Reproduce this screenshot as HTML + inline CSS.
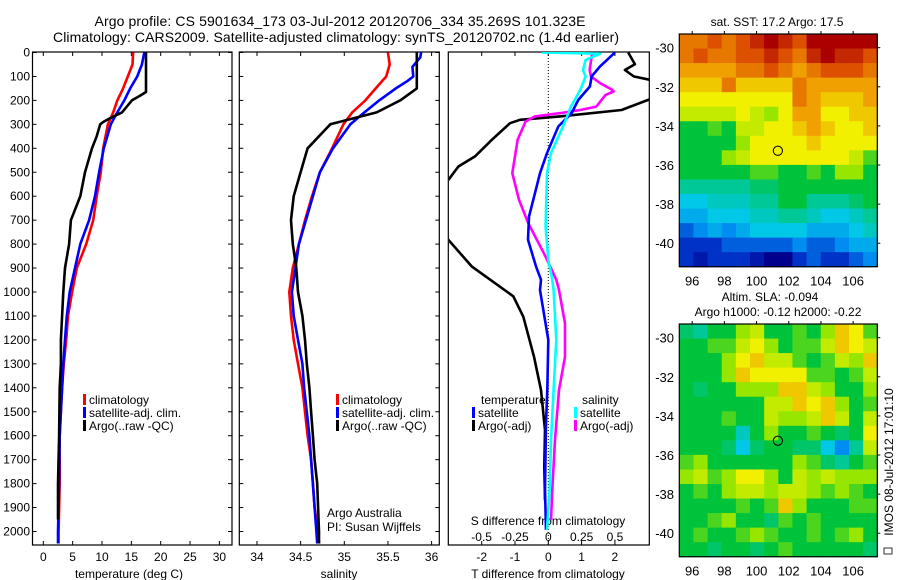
<!DOCTYPE html>
<html><head><meta charset="utf-8"><style>
body{margin:0;background:#fff;}
svg{display:block;font-family:"Liberation Sans",sans-serif;}
text{fill:#000;}
</style></head><body>
<svg id="c" width="900" height="580" viewBox="0 0 900 580">
<defs>
<clipPath id="cp1"><rect x="33" y="52" width="199" height="493"/></clipPath>
<clipPath id="cp2"><rect x="240" y="52" width="199" height="493"/></clipPath>
<clipPath id="cp3"><rect x="449" y="52" width="200" height="493"/></clipPath>
</defs>
<text x="340" y="26" font-size="14" text-anchor="middle" textLength="491">Argo profile: CS 5901634_173 03-Jul-2012 20120706_334 35.269S 101.323E</text>
<text x="336" y="42" font-size="14" text-anchor="middle" textLength="566">Climatology: CARS2009. Satellite-adjusted climatology: synTS_20120702.nc (1.4d earlier)</text>
<g id="g"></g>
</svg>
<script>
// ---- profile data ----
const depthT = [0,50,100,150,200,250,300,400,500,600,700,800,900,1000,1100,1200,1300,1400,1500,1600,1800,2000,2050];
const tempClim = [15.3,15.2,14.4,13.6,12.6,11.9,11.0,10.2,9.8,9.1,8.5,7.3,5.7,4.9,4.2,3.9,3.5,3.2,3.0,2.8,2.8,2.6,2.6];
const tempSat  = [17.2,16.8,16.0,14.8,13.8,12.6,11.5,10.3,9.5,8.8,7.8,6.3,5.4,4.5,4.0,3.7,3.4,3.2,3.0,2.8,2.7,2.5,2.5];
const depthArgo = [0,165,180,200,250,270,290,300,350,400,500,600,700,800,900,1000,1100,1200,1300,1400,1600,1800,1950];
const tempArgo = [17.5,17.5,16.5,15.1,13.4,11.7,10.2,9.7,9.1,8.3,7.1,6.3,4.7,4.4,3.7,3.4,3.2,3.0,3.0,2.8,2.7,2.5,2.5];
const depthS = [0,50,100,150,200,250,300,400,500,600,700,800,900,1000,1100,1200,1300,1400,1500,1600,1700,1800,1900,2000,2050];
const salClim = [35.50,35.52,35.48,35.36,35.24,35.09,34.99,34.86,34.72,34.63,34.55,34.48,34.41,34.37,34.39,34.42,34.47,34.52,34.55,34.58,34.62,34.64,34.66,34.70,34.71];
const depthSS = [0,20,60,100,120,150,200,250,300,400,500,600,700,800,900,1000,1100,1200,1300,1400,1500,1600,1700,1800,1900,2000,2050];
const salSat  = [35.88,35.87,35.78,35.79,35.72,35.59,35.40,35.23,35.07,34.87,34.72,34.64,34.56,34.48,34.44,34.40,34.42,34.47,34.52,34.54,34.57,34.60,34.62,34.64,34.66,34.68,34.69];
const salArgo = [35.83,35.83,35.83,35.83,35.83,35.83,35.64,35.37,34.84,34.58,34.50,34.42,34.39,34.41,34.45,34.47,34.52,34.55,34.57,34.60,34.62,34.64,34.66,34.69,34.70,34.71,34.71];
// ---- difference data ----
const depthDT = [0,59,100,142,198,253,309,420,504,587,685,782,893,949,992,1200,1409,1548,1826,1993];
const dTsat = [2.0,1.55,1.3,1.25,0.9,0.7,0.3,-0.04,-0.25,-0.4,-0.58,-0.61,-0.37,-0.22,-0.25,0,-0.03,-0.07,-0.1,-0.07];
const depthDTA = [0,49,73,100,114,150,198,240,267,281,295,365,434,476,532,650,782,893,1018,1103,1270,1409,1576,1729,1870];
const dTargo = [2.4,2.6,2.3,2.57,3.05,3.8,3.0,2.2,0.35,-0.85,-1.15,-1.7,-2.2,-2.7,-3.0,-4.0,-3.0,-2.3,-1.05,-0.75,-0.43,-0.22,-0.1,-0.12,-0.1];
const depthDS = [0,5,31,73,100,156,226,309,420,504,727,866,949,992,1200,1409,1618,1826,1993];
const dSsat = [-0.05,0.39,0.28,0.26,0.28,0.24,0.17,0.11,0.02,-0.01,-0.02,0.0,0.03,0.04,0.06,0.04,0.02,0.01,-0.01];
const depthDSA = [0,73,100,128,156,163,177,226,240,253,267,288,365,504,615,713,852,949,992,1131,1270,1409,1618,1826,1951];
const dSargo = [0.33,0.31,0.32,0.39,0.48,0.49,0.43,0.36,0.24,0.09,-0.10,-0.17,-0.23,-0.27,-0.22,-0.15,-0.02,0.06,0.08,0.125,0.125,0.08,0.05,0.03,0.02];
const depthTicks = [0,100,200,300,400,500,600,700,800,900,1000,1100,1200,1300,1400,1500,1600,1700,1800,1900,2000];
const tempTicks = [0,5,10,15,20,25,30];
const salTicks = [34,34.5,35,35.5,36];
const salTickLabels = ["34","34.5","35","35.5","36"];
const dTTicks = [-2,-1,0,1,2];
const dSTicks = [-0.5,-0.25,0,0.25,0.5];
const dSTickLabels = ["-0.5","-0.25","0","0.25","0.5"];
// ---- maps ----
const latTicks = [-30,-32,-34,-36,-38,-40];
const lonTicks = [96,98,100,102,104,106];
const sstGrid = [
[8.5,8.5,9,8.5,9,9.5,10,9.5,9,10,10,10,10,10],
[8.5,9,8.5,8.5,9,9,9.5,9,8.5,9.5,10,9.5,9.5,9],
[8,8,8,8,8.5,8.5,9,8.5,8,8.5,9,9,9,8.5],
[7.5,7.5,7.5,8.5,7.5,7.5,7.5,7.5,8.5,8,8,8,8,8],
[7,7,7,7,7,7,7,7,8.5,8,7.5,7.5,7.5,8],
[6.5,6.5,6.5,6.5,7,6.5,6,7,8,8,7,7,7.5,7.5],
[5,5,5.5,5,6.5,6.5,7,7,7.5,8,7.5,7,7,7.5],
[5,5,5,5,6,7,7,7,7,7.5,7,7,7,7],
[5,5,5,6,6.5,7,7,7,7,7,7,7,6.5,5.5],
[5,5,5,5,5,5.5,5.5,5,5,5.5,5,6,6,5],
[4,4,4,4,4,4.5,4.5,5,5,5,5,5,5,5],
[3,3,3.5,3.5,3.5,4,4,5,5,4,4,4,4.5,5],
[2.5,2.5,3,3,3,3.5,3.5,4,4,3.5,3,3,3.5,4],
[1.5,2,2.5,2,2.5,3,3,3,3,2.5,2.5,2.5,3,3.5],
[1,1,1,1.5,1.5,1.5,1.5,1.5,2,1.5,1.5,2,2.5,2.5],
[1,0.5,1,1,1,0.5,0,0,1,1.5,1,1,1.5,2]];
const slaGrid = [
[4.5,4,5,5,6,6.5,5,5,5.5,5,6,7.5,7,5.5],
[5,5,5.5,5.5,6.5,7,6,5,5.5,5.5,6.5,7.5,7,6.5],
[5,5,5,6,7,7.5,6.5,6.5,5.5,5,5.5,6.5,6,7.5],
[5,5,5,6,7.5,7,7,7,7,5.5,5.5,5,5.5,6.5],
[5,4.5,5,5,6,6,6,7.5,7.5,6.5,6,5,5,6],
[5,5,5,5,5,5,6.5,6.5,7.5,7,7.5,6,5,5.5],
[5,5,5,5.5,5,5,6.5,6,6,6.5,7.5,6.5,5,6.5],
[5,5,5,5,3.5,5,6,5,5,5.5,5,4.5,5,7],
[5,5,5,4.5,3,4.5,5,5,4.5,4.5,3,2,4,6.5],
[5.5,6,5,5,5,5,5,5,6,5.5,4.5,4,5,5.5],
[6,6.5,5.5,6,7,7,6,5,6.5,6,6.5,6,6,6],
[5,5.5,5,6,6.5,6.5,6,6.5,6.5,6,5.5,6,5.5,5],
[5,5,5,5,5.5,5,5.5,7.5,6,5,5,5,5.5,5.5],
[5,5,5.5,6,5,5,4.5,5.5,5,5.5,5,5,5,5],
[5,5.5,5,5,5.5,6,5.5,5,5,5.5,5,5.5,6,5],
[5,5,4.5,5,5,4.5,5,5.5,5,5,5,5,5,4.5]];
const argoLon = 101.323, argoLat = -35.269;

const NS="http://www.w3.org/2000/svg";
const G=document.getElementById('g');
function mk(tag,at,parent){const e=document.createElementNS(NS,tag);for(const k in at)e.setAttribute(k,at[k]);(parent||G).appendChild(e);return e;}
function txt(x,y,s,size,anchor,parent){const e=mk('text',{x:x,y:y,'font-size':size||12,'text-anchor':anchor||'middle'},parent);e.textContent=s;return e;}
const yD=d=>52.5+0.2395*d;
const xT=t=>43.3+5.87*t;
const xS=s=>257+87.3*(s-34);
const xDT=t=>548.3+33.3*t;
const xDS=s=>548.3+133.3*s;

function line(xs,ds,fx,color,clip,name){
  let p=xs.map((v,i)=>(i?'L':'M')+fx(v).toFixed(1)+' '+yD(ds[i]).toFixed(1)).join(' ');
  const e=mk('path',{d:p,fill:'none',stroke:color,'stroke-width':2.6,'stroke-linejoin':'round','clip-path':'url(#'+clip+')'});
  
  
}
function frame(x0,x1,name){
  const e=mk('rect',{x:x0,y:52,width:x1-x0,height:493,fill:'none',stroke:'#000','stroke-width':1.2});
  
  
  depthTicks.forEach(d=>{mk('line',{x1:x0,x2:x0+4,y1:yD(d),y2:yD(d),stroke:'#000'});mk('line',{x1:x1,x2:x1-4,y1:yD(d),y2:yD(d),stroke:'#000'});});
}
// panel 1
frame(32.5,232,'temperature-panel');
depthTicks.forEach(d=>{const t=txt(30,yD(d)+4,String(d),12,'end');});
tempTicks.forEach(t=>{mk('line',{x1:xT(t),x2:xT(t),y1:545,y2:541,stroke:'#000'});mk('line',{x1:xT(t),x2:xT(t),y1:52,y2:56,stroke:'#000'});
 const l=txt(xT(t),561,String(t));});
let a=txt(129,578,'temperature (deg C)');
line(tempClim,depthT,xT,'#f00','cp1','temp-climatology-line');
line(tempSat,depthT,xT,'#00f','cp1','temp-satellite-line');
line(tempArgo,depthArgo,xT,'#000','cp1','temp-argo-line');
// panel 2
frame(239.3,439.3,'salinity-panel');
salTicks.forEach((s,i)=>{mk('line',{x1:xS(s),x2:xS(s),y1:545,y2:541,stroke:'#000'});mk('line',{x1:xS(s),x2:xS(s),y1:52,y2:56,stroke:'#000'});
 const l=txt(xS(s),561,salTickLabels[i]);});
a=txt(339,578,'salinity');
line(salClim,depthS,xS,'#f00','cp2','sal-climatology-line');
line(salSat,depthSS,xS,'#00f','cp2','sal-satellite-line');
line(salArgo,depthSS,xS,'#000','cp2','sal-argo-line');
a=txt(327,517,'Argo Australia',12,'start');
a=txt(327,531,'PI: Susan Wijffels',12,'start');
// legends 1 & 2
function legend(x,y,color,label,name){
  const r=mk('rect',{x:x,y:y-10,width:3,height:11,fill:color});
  const t=txt(x+6,y,label,12,'start');
  
  
}
[[83,'climatology','#f00'],[83,'satellite-adj. clim.','#00f'],[83,'Argo(..raw -QC)','#000']].forEach((L,i)=>legend(L[0],404+i*13,L[2],L[1],'legend-entry'));
[[336,'climatology','#f00'],[336,'satellite-adj. clim.','#00f'],[336,'Argo(..raw -QC)','#000']].forEach((L,i)=>legend(L[0],404+i*13,L[2],L[1],'legend-entry'));
// panel 3
const f3=mk('rect',{x:448.3,y:52,width:201,height:493,fill:'none',stroke:'#000','stroke-width':1.2});


mk('line',{x1:xDT(0),x2:xDT(0),y1:52,y2:545,stroke:'#000','stroke-dasharray':'1,2'});
dTTicks.forEach(t=>{mk('line',{x1:xDT(t),x2:xDT(t),y1:545,y2:541,stroke:'#000'});mk('line',{x1:xDT(t),x2:xDT(t),y1:52,y2:56,stroke:'#000'});
 const l=txt(xDT(t),561,String(t));});
dSTicks.forEach((s,i)=>{const l=txt(xDS(s),541,dSTickLabels[i]);});
a=txt(548,525,'S difference from climatology');
a=txt(548,578,'T difference from climatology');
line(dTargo,depthDTA,xDT,'#000','cp3','t-diff-argo-line');
line(dSargo,depthDSA,xDS,'#f0f','cp3','s-diff-argo-line');
line(dTsat,depthDT,xDT,'#00f','cp3','t-diff-satellite-line');
line(dSsat,depthDS,xDS,'#0ff','cp3','s-diff-satellite-line');
a=txt(481,404,'temperature',12,'start');
a=txt(582,404,'salinity',12,'start');
legend(472,417,'#00f','satellite','legend-entry');
legend(472,430,'#000','Argo(-adj)','legend-entry');
legend(574,417,'#0ff','satellite','legend-entry');
legend(574,430,'#f0f','Argo(-adj)','legend-entry');
// ---- maps ----
const stops=[[0,0,140],[0,50,200],[0,140,240],[0,200,230],[0,200,150],[0,195,60],[150,230,0],[240,240,0],[240,160,0],[220,80,0],[170,0,0]];
function col(v){v=Math.max(0,Math.min(10,v));const i=Math.min(9,Math.floor(v)),f=v-i;const a=stops[i],b=stops[i+1];return 'rgb('+a.map((c,k)=>Math.round(c+(b[k]-c)*f)).join(',')+')';}
const LON0=95.2,LON1=107.5,LAT0=-29.3,LAT1=-41.2;
function drawMap(top,grid,name,title1,title2){
  const x0=679.3,x1=877.3,y0=top,y1=top+232.7;
  const xL=lon=>x0+(lon-LON0)/(LON1-LON0)*(x1-x0);
  const yL=lat=>y0+(lat-LAT0)/(LAT1-LAT0)*(y1-y0);
  const g=mk('g',{});
  
  
  const nr=grid.length,nc=grid[0].length;
  const dLon=(LON1-LON0)/nc,dLat=(LAT1-LAT0)/nr;
  grid.forEach((row,r)=>row.forEach((v,c)=>{
    const xa=xL(LON0+c*dLon),xb=xL(LON0+(c+1)*dLon),ya=yL(LAT0+r*dLat),yb=yL(LAT0+(r+1)*dLat);
    const cell=mk('rect',{x:xa.toFixed(2),y:ya.toFixed(2),width:(xb-xa+0.6).toFixed(2),height:(yb-ya+0.6).toFixed(2),fill:col(v)},g);
    
    
  }));
  mk('rect',{x:x0,y:y0,width:x1-x0,height:y1-y0,fill:'none',stroke:'#000','stroke-width':1.2},g);
  latTicks.forEach(l=>{mk('line',{x1:x1,x2:x1+3,y1:yL(l),y2:yL(l),stroke:'#000'},g);
    const t=txt(674,yL(l)+5,String(l),13,'end',g);});
  lonTicks.forEach(l=>{mk('line',{x1:xL(l),x2:xL(l),y1:y0,y2:y0-3,stroke:'#000'},g);
    const t=txt(xL(l),y1+19,String(l),13,'middle',g);});
  const m=mk('circle',{cx:xL(argoLon),cy:yL(argoLat),r:4.6,fill:'none',stroke:'#000','stroke-width':1},g);
  
  
}
drawMap(34,sstGrid,'sst-map');
drawMap(324,slaGrid,'sla-map');
a=txt(777,26,'sat. SST: 17.2 Argo: 17.5',12);
a=txt(770,301,'Altim. SLA: -0.094',12);
a=txt(778,316,'Argo h1000: -0.12 h2000: -0.22',12);
a=txt(0,0,'IMOS 08-Jul-2012 17:01:10',12,'middle');
a.setAttribute('transform','translate(893,462) rotate(-90)');


mk('rect',{x:884,y:548,width:8,height:6,fill:'none',stroke:'#000','stroke-width':0.8});
</script>
</body></html>
